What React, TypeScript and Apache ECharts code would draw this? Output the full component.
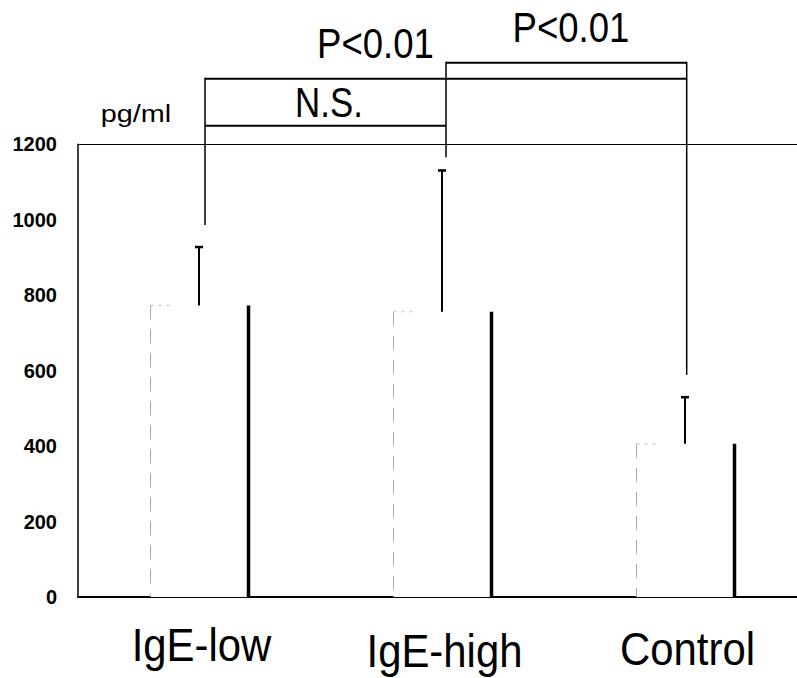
import React, { useEffect, useRef } from "react";
import * as echarts from "echarts";

// ---- data ----
const CATEGORIES = ["IgE-low", "IgE-high", "Control"];
const MEANS = [773, 756, 406];
const UPPER = [929, 1132, 531];
const Y_MIN = 0;
const Y_MAX = 1200;
const Y_INTERVAL = 200;
const UNIT = "pg/ml";
const BRACKETS = [
  { from: 0, to: 1, level: 1249, label: "N.S." },
  { from: 0, to: 2, level: 1374, label: "P<0.01" },
  { from: 1, to: 2, level: 1416, label: "P<0.01" },
];
const LEG_BOTTOM = [986, 1166, 589];

// ---- layout / style ----
const FONT = "'Liberation Sans', Arial, Helvetica, sans-serif";
const BAR_W = 98;
const LEG_DX = [5.5, 3.5, 1.2];
const XLABEL_DY = [48, 54, 52];
const XLABEL_SCALE = 0.91;
const BRACKET_LABEL_POS = [
  { x: 329, y: 102, sx: 0.83 },
  { x: 375.5, y: 43.3, sx: 0.87 },
  { x: 571, y: 27.5, sx: 0.87 },
];

export default function App() {
  const ref = useRef<HTMLDivElement>(null);

  useEffect(() => {
    document.body.style.margin = "0";
    const chart = echarts.init(ref.current!, null, { renderer: "svg" });

    const legX = (api: any, i: number) => api.coord([i, 0])[0] + LEG_DX[i];
    const legTop = (i: number) =>
      Math.max(...BRACKETS.filter((b) => b.from === i || b.to === i).map((b) => b.level));

    chart.setOption({
      animation: false,
      backgroundColor: "#fff",
      grid: {
        left: 78,
        right: -10,
        top: 144.3,
        bottom: 81,
        containLabel: false,
        outerBoundsMode: "none",
      },
      xAxis: [
        {
          type: "category",
          data: CATEGORIES,
          boundaryGap: true,
          axisLine: { show: true, lineStyle: { color: "#000", width: 2 } },
          axisTick: { show: false },
          axisLabel: { show: false },
          splitLine: { show: false },
        },
        {
          type: "category",
          data: CATEGORIES,
          position: "top",
          axisLine: { show: true, onZero: false, lineStyle: { color: "#000", width: 1.2 } },
          axisTick: { show: false },
          axisLabel: { show: false },
          splitLine: { show: false },
        },
      ],
      yAxis: {
        type: "value",
        min: Y_MIN,
        max: Y_MAX,
        interval: Y_INTERVAL,
        axisLine: { show: true, lineStyle: { color: "#000", width: 1.5 } },
        axisTick: { show: false },
        splitLine: { show: false },
        axisLabel: {
          fontSize: 20,
          fontWeight: "bold",
          color: "#000",
          fontFamily: FONT,
          margin: 21,
          formatter: (v: number) => String(v),
        },
      },
      graphic: [
        {
          type: "text",
          x: 136,
          y: 113.5,
          scaleX: 1.2,
          style: {
            text: UNIT,
            fontSize: 24,
            fontFamily: FONT,
            fill: "#000",
            align: "center",
            verticalAlign: "middle",
          },
        },
        ...BRACKETS.map((b, i) => ({
          type: "text",
          x: BRACKET_LABEL_POS[i].x,
          y: BRACKET_LABEL_POS[i].y,
          scaleX: BRACKET_LABEL_POS[i].sx,
          style: {
            text: b.label,
            fontSize: 42,
            fontFamily: FONT,
            fill: "#000",
            align: "center",
            verticalAlign: "middle",
          },
        })),
      ],
      series: [
        {
          type: "custom",
          name: "bars",
          clip: false,
          data: MEANS.map((v, i) => [i, v]),
          renderItem: (params: any, api: any) => {
            const i = api.value(0);
            const v = api.value(1);
            const base = api.coord([i, 0]);
            const top = api.coord([i, v]);
            const l = base[0] - BAR_W / 2;
            const r = base[0] + BAR_W / 2;
            return {
              type: "group",
              children: [
                {
                  type: "rect",
                  shape: { x: l, y: top[1], width: BAR_W, height: base[1] - top[1] },
                  style: { fill: "#fff" },
                },
                {
                  type: "line",
                  shape: { x1: l, y1: top[1], x2: l, y2: base[1] },
                  style: { stroke: "#aaa", lineWidth: 1, lineDash: [14, 10] },
                },
                {
                  type: "line",
                  shape: { x1: l, y1: top[1], x2: l + 24, y2: top[1] },
                  style: { stroke: "#bbb", lineWidth: 1, lineDash: [3, 5] },
                },
                {
                  type: "line",
                  shape: { x1: r, y1: top[1], x2: r, y2: base[1] },
                  style: { stroke: "#000", lineWidth: 3.5 },
                },
              ],
            };
          },
        },
        {
          type: "custom",
          name: "error",
          clip: false,
          data: UPPER.map((u, i) => [i, MEANS[i], u]),
          encode: { x: 0, y: [1, 2] },
          renderItem: (params: any, api: any) => {
            const i = api.value(0);
            const lo = api.coord([i, api.value(1)]);
            const hi = api.coord([i, api.value(2)]);
            const x = lo[0] - 0.5;
            return {
              type: "group",
              children: [
                {
                  type: "line",
                  shape: { x1: x, y1: hi[1], x2: x, y2: lo[1] },
                  style: { stroke: "#000", lineWidth: 2 },
                },
                {
                  type: "line",
                  shape: { x1: x - 4, y1: hi[1] + 0.5, x2: x + 4, y2: hi[1] + 0.5 },
                  style: { stroke: "#000", lineWidth: 2.5 },
                },
              ],
            };
          },
        },
        {
          type: "custom",
          name: "bracketLines",
          clip: false,
          silent: true,
          data: BRACKETS.map((b) => [b.from, b.level]),
          renderItem: (params: any, api: any) => {
            const b = BRACKETS[params.dataIndex];
            const y = api.coord([0, b.level])[1];
            return {
              type: "line",
              shape: { x1: legX(api, b.from), y1: y, x2: legX(api, b.to), y2: y },
              style: { stroke: "#000", lineWidth: 2 },
            };
          },
        },
        {
          type: "custom",
          name: "bracketLegs",
          clip: false,
          silent: true,
          data: LEG_BOTTOM.map((v, i) => [i, v]),
          renderItem: (params: any, api: any) => {
            const i = api.value(0);
            const x = legX(api, i);
            const y1 = api.coord([i, legTop(i)])[1];
            const y2 = api.coord([i, api.value(1)])[1];
            return {
              type: "line",
              shape: { x1: x, y1: y1 - 1, x2: x, y2: y2 },
              style: { stroke: "#000", lineWidth: 1.5 },
            };
          },
        },
        {
          type: "custom",
          name: "xLabels",
          clip: false,
          silent: true,
          data: CATEGORIES.map((c, i) => [i, 0]),
          renderItem: (params: any, api: any) => {
            const i = api.value(0);
            const p = api.coord([i, 0]);
            return {
              type: "text",
              x: p[0] + 2,
              y: p[1] + XLABEL_DY[i],
              scaleX: XLABEL_SCALE,
              style: {
                text: CATEGORIES[i],
                fontSize: 46,
                fontFamily: FONT,
                fill: "#000",
                align: "center",
                verticalAlign: "middle",
              },
            };
          },
        },
      ],
    });

    return () => chart.dispose();
  }, []);

  return <div ref={ref} style={{ width: 797, height: 678 }} />;
}
